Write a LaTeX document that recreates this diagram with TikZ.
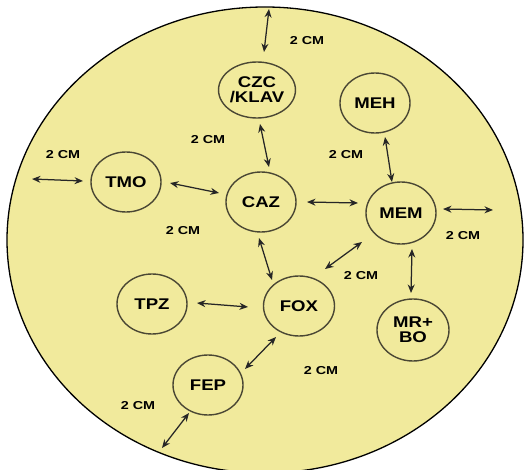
\documentclass[tikz,border=0pt]{standalone}
\usepackage{fontspec}
\setmainfont{Liberation Sans}
\newfontfamily\nodefont[FakeStretch=1.2]{Liberation Sans}
\newfontfamily\labfont[FakeStretch=1.25]{Liberation Sans}
\usetikzlibrary{arrows.meta,shapes.geometric}
\definecolor{bgyellow}{HTML}{F1EA9C}
\definecolor{ringc}{HTML}{4A4734}
\begin{document}
\begin{tikzpicture}[x=1pt,y=-1pt,
  drug/.style={ellipse,draw=ringc,line width=1.4pt,minimum width=70,minimum height=60,inner sep=0pt,align=center,
    font=\nodefont\bfseries\fontsize{15.5}{16}\selectfont},
  dist/.style={font=\labfont\bfseries\fontsize{11.5}{12}\selectfont},
  arr/.style={{Stealth[length=8.5pt,width=7pt]}-{Stealth[length=8.5pt,width=7pt]},line width=1.25pt,draw=black!85}]
\useasboundingbox (0,0) rectangle (525,470);
\fill[white] (0,0) rectangle (525,470);
\begin{scope}
\clip (0,0) rectangle (525,470);
\draw[fill=bgyellow,line width=1.3pt] (265,240) ellipse [x radius=258,y radius=233];
\end{scope}
% nodes
\node[drug,minimum height=56] (czc) at (257,90) {CZC\\[-1pt]/KLAV};
\node[drug] (meh) at (375,103) {MEH};
\node[drug] (tmo) at (126,182) {TMO};
\node[drug] (caz) at (261,202) {CAZ};
\node[drug,minimum height=62] (mem) at (401,213) {MEM};
\node[drug] (tpz) at (152,304) {TPZ};
\node[drug,minimum width=71] (fox) at (299,306) {FOX};
\node[drug,minimum width=72,minimum height=62] (mrbo) at (413,330) {MR+\\[-1pt]BO};
\node[drug] (fep) at (208,385) {FEP};
% free ends
\coordinate (top) at (269,9);
\coordinate (left) at (32,179);
\coordinate (right) at (493,210);
\coordinate (bottom) at (162,448);
% arrows
\draw[arr] (top) -- ([shift={(7,-38)}]czc.center);
\draw[arr] ([shift={(3,34)}]czc.center) -- ([shift={(8,-35)}]caz.center);
\draw[arr] ([shift={(10,34)}]meh.center) -- ([shift={(-9,-31)}]mem.center);
\draw[arr] (left) -- ([shift={(-43,-1)}]tmo.center);
\draw[arr] ([shift={(44,1)}]tmo.center) -- ([shift={(-42,-9)}]caz.center);
\draw[arr] ([shift={(46,0)}]caz.center) -- ([shift={(-43,-10)}]mem.center);
\draw[arr] ([shift={(42,-4)}]mem.center) -- (right);
\draw[arr] ([shift={(-2,36)}]caz.center) -- ([shift={(-27,-26)}]fox.center);
\draw[arr] ([shift={(-39,29)}]mem.center) -- ([shift={(26,-37)}]fox.center);
\draw[arr] ([shift={(11,36)}]mem.center) -- ([shift={(-2,-37)}]mrbo.center);
\draw[arr] ([shift={(45,-1)}]tpz.center) -- ([shift={(-51,1)}]fox.center);
\draw[arr] ([shift={(-23,31)}]fox.center) -- ([shift={(37,-16)}]fep.center);
\draw[arr] ([shift={(-19,28)}]fep.center) -- (bottom);
% labels
\node[dist] (l1) at (307,41) {2 CM};
\node[dist] (l2) at (208,140) {2 CM};
\node[dist] (l3) at (63,155) {2 CM};
\node[dist] (l4) at (346,155) {2 CM};
\node[dist] (l5) at (183,231) {2 CM};
\node[dist] (l6) at (463,236) {2 CM};
\node[dist] (l7) at (361,276) {2 CM};
\node[dist] (l8) at (321,371) {2 CM};
\node[dist] (l9) at (138,406) {2 CM};
\end{tikzpicture}
\end{document}
